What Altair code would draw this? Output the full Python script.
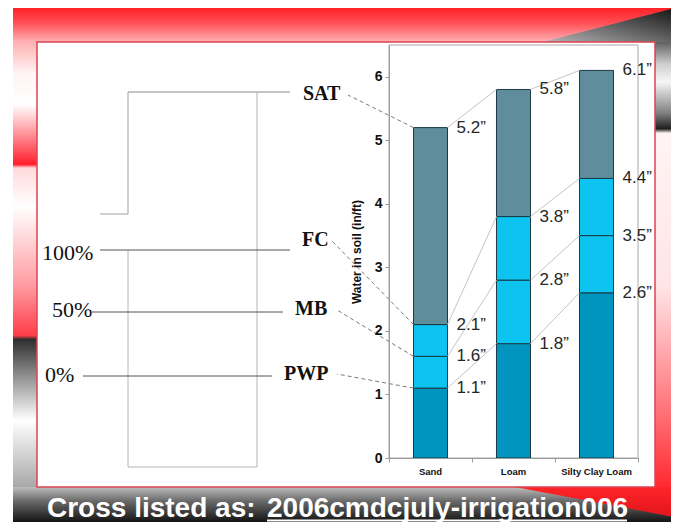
import altair as alt
import pandas as pd

# ---------------- data ----------------
soils = ["Sand", "Loam", "Silty Clay Loam"]
pwp = [1.1, 1.8, 2.6]
mb = [1.6, 2.8, 3.5]
fc = [2.1, 3.8, 4.4]
sat = [5.2, 5.8, 6.1]
level_names = ["SAT", "FC", "MB", "PWP"]
percent_labels = ["100%", "50%", "0%"]
y_ticks = [0, 1, 2, 3, 4, 5, 6]
y_title = "Water in soil (in/ft)"
caption_a = "Cross listed as: "
caption_b = "2006cmdcjuly-irrigation006"

seg_names = ["below PWP", "PWP-MB", "MB-FC", "FC-SAT"]
seg_colors = ["#0095BE", "#0CC4EF", "#0CC4EF", "#5F8D9B"]

# ---------------- layout constants ----------------
W, H = 249, 413
HW = 0.205  # half bar width, in category units
SANS = "'Liberation Sans', Arial, sans-serif"
SERIF = "'Liberation Serif', 'Times New Roman', serif"

levels = {"PWP": pwp, "MB": mb, "FC": fc, "SAT": sat}

rows = []
for i, s in enumerate(soils):
    b = [0, pwp[i], mb[i], fc[i], sat[i]]
    for k in range(4):
        rows.append({"soil": s, "idx": i, "seg": seg_names[k], "lo": b[k], "hi": b[k + 1]})
bars_df = pd.DataFrame(rows)

crow = []
for name, vals in levels.items():
    for i in range(len(soils) - 1):
        crow.append({"level": name, "i": i, "v0": vals[i], "v1": vals[i + 1]})
conn_df = pd.DataFrame(crow)

lrow = []
for name, vals in levels.items():
    for i, s in enumerate(soils):
        lrow.append({"soil": s, "idx": i, "v": vals[i], "txt": f"{vals[i]:.1f}\u201d"})
lab_df = pd.DataFrame(lrow)

cat_df = pd.DataFrame({"soil": soils, "idx": list(range(len(soils)))})

xs = alt.Scale(domain=[0, 3], nice=False, zero=False)
ys = alt.Scale(domain=[0, 6.5], nice=False, zero=True)

x_axis = alt.Axis(values=[0, 1, 2, 3], labels=False,
                  tickSize=4, tickColor="#9A9A9A", domainColor="#9A9A9A",
                  grid=False, title=None, zindex=2)
y_axis = alt.Axis(values=y_ticks, format="d", tickSize=4, tickColor="#9A9A9A",
                  domainColor="#9A9A9A", labelFont=SANS, labelFontWeight="bold",
                  labelFontSize=14, labelColor="#111111", labelPadding=3,
                  grid=False, title=y_title, titleFont=SANS, titleFontSize=12,
                  titleFontWeight="bold", titleColor="#111111", titlePadding=11,
                  zindex=2)


def X(field, **kw):
    return alt.X(field, scale=xs, axis=x_axis, **kw)


def Y(field, **kw):
    return alt.Y(field, scale=ys, axis=y_axis, **kw)


one = pd.DataFrame({"k": [0]})


def grad(stops, x1=0, y1=0, x2=0, y2=1):
    return alt.LinearGradient(gradient="linear",
                              stops=[alt.GradientStop(offset=o, color=c) for o, c in stops],
                              x1=x1, y1=y1, x2=x2, y2=y2)


def rect(x1, x2, y1, y2, **kw):
    return alt.Chart(one).mark_rect(**kw).encode(
        x=alt.value(x1), x2=alt.value(x2), y=alt.value(y1), y2=alt.value(y2))


def poly(path, **kw):
    return alt.Chart(one).mark_point(shape=path, size=4, filled=True, opacity=1,
                                     strokeWidth=0, **kw).encode(
        x=alt.value(0), y=alt.value(0))


def seg(x1, y1, x2, y2, **kw):
    return alt.Chart(one).mark_rule(**kw).encode(
        x=alt.value(x1), y=alt.value(y1), x2=alt.value(x2), y2=alt.value(y2))


def label(txt, x, y, **kw):
    return alt.Chart(one).mark_text(text=txt, align="left", baseline="middle", **kw).encode(
        x=alt.value(x), y=alt.value(y))


layers = []
# ---------- slide background ----------
layers.append(rect(-376, 282, -38, -3, fill=grad([(0, "#FF1E24"), (0.45, "#FF4E54"), (1, "#FFB2B4")])))
left_stops = [(0, "#FFB0B2"), (0.07, "#FFF4F4"), (0.14, "#FFFFFF"), (0.2, "#FF9EA4"),
              (0.275, "#FF1E2C"), (0.283, "#FFDADC"), (0.37, "#FFFFFF"), (0.55, "#FF9AA0"),
              (0.66, "#FF3C48"), (0.668, "#2E2E2E"), (0.76, "#9A9A9A"), (0.85, "#FFFFFF"),
              (1, "#A8A8A8")]
layers.append(rect(-376, -352, -3, 442, fill=grad(left_stops)))
right_stops = [(0, "#606060"), (0.05, "#CFCFCF"), (0.09, "#F6F6F6"), (0.16, "#808080"),
               (0.195, "#1E1E1E"), (0.205, "#FFF4F4"), (0.55, "#FFE4E6"), (0.85, "#FF6A70"),
               (1, "#FF2A30")]
layers.append(rect(266, 282, -3, 442, fill=grad(right_stops)))
layers.append(poly("M154,-3 L290,-38 L290,-3 Z",
                   fill=grad([(0, "#0E0E0E"), (1, "#B4B4B4")], x1=1, y1=0, x2=0, y2=1)))
layers.append(rect(-376, 282, 442, 477,
                   fill=grad([(0, "#BEBEBE"), (0.4, "#6A6A6A"), (1, "#141414")])))
layers.append(poly("M126,442 L290,442 L290,473 Z",
                   fill=grad([(0, "#FF2428"), (1, "#E0141C")])))
layers.append(rect(-352, 266, -3, 442, fill="#FFFFFF", stroke="#DC4452", strokeWidth=1.5))

# ---------- left schematic ----------
box_c = "#B4B4B4"
layers.append(seg(-261, 47, -99, 47, color="#8A8A8A"))
layers.append(seg(-261, 47, -261, 169, color="#A0A0A0"))
layers.append(seg(-289, 169, -261, 169, color="#A0A0A0"))
layers.append(seg(-261, 205, -261, 422, color=box_c))
layers.append(seg(-132, 47, -132, 422, color=box_c))
layers.append(seg(-261, 422, -132, 422, color=box_c))
pct_lines = [(-289, -99, 205), (-297, -106, 267), (-306, -117, 331)]
for (x1, x2, yy) in pct_lines:
    layers.append(seg(x1, yy, x2, yy, color="#555555"))
pct_pos = [(-347, 208), (-337, 265), (-344, 330)]
for txt, (x, y) in zip(percent_labels, pct_pos):
    layers.append(label(txt, x, y, font=SERIF, fontSize=22, color="#111111"))
lvl_pos = [(-86, 49), (-87, 195), (-94, 264), (-105, 329)]
for txt, (x, y) in zip(level_names, lvl_pos):
    layers.append(label(txt, x, y, font=SERIF, fontSize=20, fontWeight="bold", color="#111111"))

# ---------- bar chart ----------
layers.append(rect(0, W, 0, H, fillOpacity=0, stroke="#A8A8A8", strokeWidth=1))

layers.append(
    alt.Chart(bars_df).mark_rect(stroke="#1B3A45", strokeWidth=1)
    .transform_calculate(x0=f"datum.idx + 0.5 - {HW}", x1=f"datum.idx + 0.5 + {HW}")
    .encode(x=X("x0:Q"), x2="x1:Q", y=Y("lo:Q"), y2="hi:Q",
            color=alt.Color("seg:N", scale=alt.Scale(domain=seg_names, range=seg_colors),
                            legend=None))
)

layers.append(
    alt.Chart(conn_df).mark_rule(color="#C4C4C4", strokeWidth=1)
    .transform_calculate(x0=f"datum.i + 0.5 + {HW}", x1=f"datum.i + 1.5 - {HW}")
    .encode(x=X("x0:Q"), x2="x1:Q", y=Y("v0:Q"), y2="v1:Q")
)

# dashed leader lines from level names to the Sand bar
lead_start = {"SAT": (-41, 50), "FC": (-57, 196), "MB": (-52, 265), "PWP": (-52, 329)}
for name in level_names:
    sx, sy = lead_start[name]
    d = pd.DataFrame({"v": [levels[name][0]], "idx": [0]})
    layers.append(
        alt.Chart(d).mark_rule(color="#7A7A7A", strokeDash=[4, 3], strokeWidth=1)
        .transform_calculate(x0=f"datum.idx + 0.5 - {HW}")
        .encode(x=X("x0:Q"), x2=alt.value(sx), y=Y("v:Q"), y2=alt.value(sy))
    )

# category labels under the axis
layers.append(
    alt.Chart(cat_df).mark_text(align="center", baseline="middle", font=SANS,
                                fontSize=9.5, fontWeight="bold", color="#111111")
    .transform_calculate(x0="datum.idx + 0.5")
    .encode(x=X("x0:Q"), y=alt.value(H + 14), text="soil:N")
)

layers.append(
    alt.Chart(lab_df).mark_text(align="left", baseline="middle", dx=9, font=SANS,
                                fontSize=17, color="#262626")
    .transform_calculate(x0=f"datum.idx + 0.5 + {HW}")
    .encode(x=X("x0:Q"), y=Y("v:Q"), text="txt:N")
)

# ---------- caption ----------
layers.append(alt.Chart(one).mark_text(text=caption_a, align="left", baseline="alphabetic",
                                       font=SANS, fontSize=28, fontWeight="bold",
                                       color="#FFFFFF")
              .encode(x=alt.value(-342), y=alt.value(472)))
layers.append(alt.Chart(one).mark_text(text=caption_b, align="left", baseline="alphabetic",
                                       font=SANS, fontSize=28, fontWeight="bold",
                                       color="#FFFFFF")
              .encode(x=alt.value(-122), y=alt.value(472)))
layers.append(seg(-122, 475.5, 238, 475.5, color="#FFFFFF", strokeWidth=2))

chart = alt.layer(*layers).properties(
    width=W, height=H,
    padding={"left": 381, "top": 37, "right": 33, "bottom": 64},
    autosize=alt.AutoSizeParams(type="none"),
    background="#FFFFFF",
).configure_view(stroke=None)

chart.save("out.html", embed_options={"renderer": "svg", "actions": False})
